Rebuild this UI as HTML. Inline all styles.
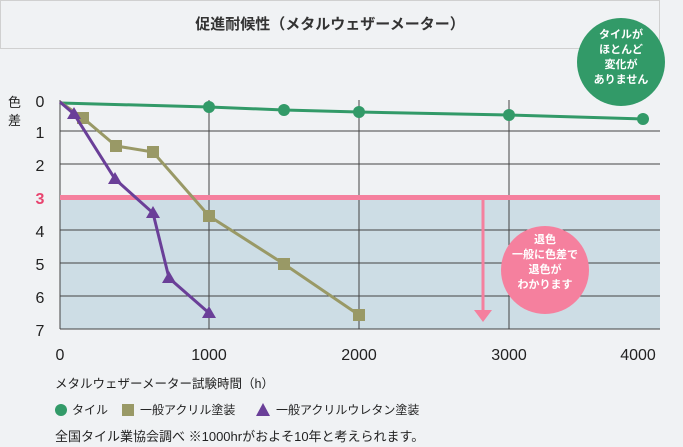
<!DOCTYPE html>
<html><head><meta charset="utf-8"><style>
body{margin:0;background:#f0f2f4;font-family:"Liberation Sans","Noto Sans CJK JP",sans-serif;}
</style></head><body>
<svg width="683" height="447" xmlns="http://www.w3.org/2000/svg" style="display:block;font-family:'Liberation Sans','Noto Sans CJK JP',sans-serif">
<rect width="683" height="447" fill="#f0f2f4"/>
<rect x="0.5" y="0.5" width="659" height="48" fill="#f0f2f4" stroke="#d0d0d0"/>
<text x="330" y="29" text-anchor="middle" font-size="15" font-weight="bold" fill="#333">促進耐候性（メタルウェザーメーター）</text>
<rect x="60" y="197" width="600" height="132" fill="#cddde5"/>
<g stroke="#444" stroke-width="1">
<line x1="60" y1="131" x2="660" y2="131"/><line x1="60" y1="164" x2="660" y2="164"/>
<line x1="60" y1="230" x2="660" y2="230"/><line x1="60" y1="263" x2="660" y2="263"/>
<line x1="60" y1="296" x2="660" y2="296"/><line x1="60" y1="329" x2="660" y2="329"/>
<line x1="60" y1="100" x2="60" y2="329"/><line x1="209" y1="100" x2="209" y2="329"/>
<line x1="359" y1="100" x2="359" y2="329"/><line x1="509" y1="100" x2="509" y2="329"/>
</g>
<rect x="60" y="195" width="600" height="5" fill="#f5809e"/>
<line x1="483" y1="197" x2="483" y2="312" stroke="#f5809e" stroke-width="3"/>
<polygon points="474,310 492,310 483,322" fill="#f5809e"/>
<g font-size="16" fill="#222" text-anchor="middle">
<text x="40" y="107">0</text><text x="40" y="138">1</text><text x="40" y="171">2</text>
<text x="40" y="204" fill="#e8446f" font-weight="bold">3</text><text x="40" y="237">4</text>
<text x="40" y="270">5</text><text x="40" y="303">6</text><text x="40" y="336">7</text>
<text x="60" y="360">0</text><text x="209" y="360">1000</text><text x="359" y="360">2000</text>
<text x="509" y="360">3000</text><text x="638" y="360">4000</text>
</g>
<text x="8" y="107" font-size="13" fill="#222">色</text>
<text x="8" y="125" font-size="13" fill="#222">差</text>
<polyline points="60,103 209,107 284,110 359,112 509,115 643,119" fill="none" stroke="#329a68" stroke-width="3"/>
<g fill="#329a68"><circle cx="209" cy="107" r="6"/><circle cx="284" cy="110" r="6"/><circle cx="359" cy="112" r="6"/><circle cx="509" cy="115" r="6"/><circle cx="643" cy="119" r="6"/></g>
<polyline points="60,102 83,118 116,146 153,152 209,216 284,264 359,315" fill="none" stroke="#999966" stroke-width="3"/>
<g fill="#999966"><rect x="77" y="112" width="12" height="12"/><rect x="110" y="140" width="12" height="12"/><rect x="147" y="146" width="12" height="12"/><rect x="203" y="210" width="12" height="12"/><rect x="278" y="258" width="12" height="12"/><rect x="353" y="309" width="12" height="12"/></g>
<polyline points="60,102 74,114 115,179 153,213 169,278 209,313" fill="none" stroke="#6a3f98" stroke-width="3"/>
<g fill="#6a3f98"><polygon points="74,107 67,119 81,119"/><polygon points="115,172 108,184 122,184"/><polygon points="153,206 146,218 160,218"/><polygon points="169,271 162,283 176,283"/><polygon points="209,306 202,318 216,318"/></g>
<circle cx="621" cy="62" r="44" fill="#329a68"/>
<g font-size="11" fill="#fff" text-anchor="middle" font-weight="bold">
<text x="621" y="38">タイルが</text><text x="621" y="53">ほとんど</text><text x="621" y="68">変化が</text><text x="621" y="83">ありません</text></g>
<circle cx="545" cy="270" r="44" fill="#f5809e"/>
<g font-size="11" fill="#fff" text-anchor="middle" font-weight="bold">
<text x="545" y="243">退色</text><text x="545" y="258">一般に色差で</text><text x="545" y="273">退色が</text><text x="545" y="288">わかります</text></g>
<text x="55" y="388" font-size="12.5" fill="#222">メタルウェザーメーター試験時間（h）</text>
<circle cx="61" cy="410" r="6" fill="#329a68"/><text x="72" y="414" font-size="12" fill="#222">タイル</text>
<rect x="122" y="404" width="12" height="12" fill="#999966"/><text x="140" y="414" font-size="12" fill="#222">一般アクリル塗装</text>
<polygon points="263,403 256,416 270,416" fill="#6a3f98"/><text x="276" y="414" font-size="12" fill="#222">一般アクリルウレタン塗装</text>
<text x="55" y="441" font-size="13" fill="#222">全国タイル業協会調べ ※1000hrがおよそ10年と考えられます。</text>
</svg>
</body></html>
